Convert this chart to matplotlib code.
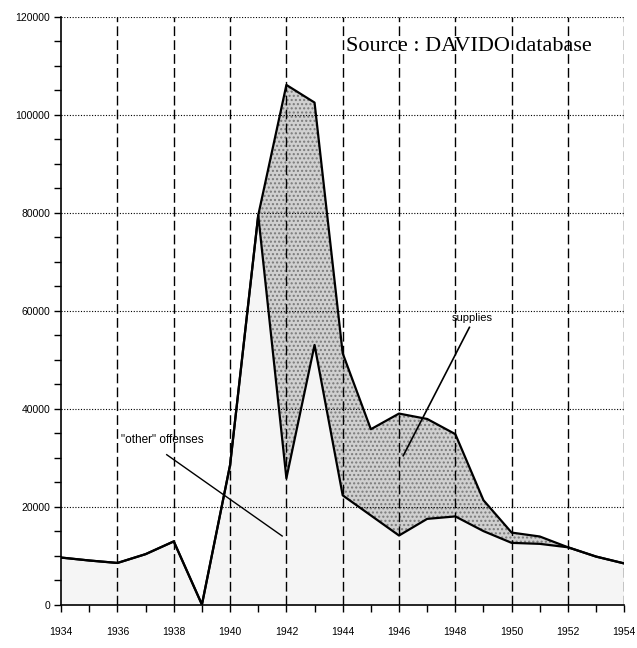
import numpy as np
from matplotlib import pyplot as plt

# Data (DAVIDO database)
years = np.arange(1934, 1955)
other = [9600, 9000, 8500, 10300, 12900, 0, 28500, 79500, 25800, 53000,
         22300, 18200, 14100, 17500, 18000, 15000, 12600, 12400, 11700, 9800, 8400]
total = [9600, 9000, 8500, 10300, 12900, 0, 28500, 79500, 106100, 102500,
         51300, 35800, 39000, 37900, 34800, 21300, 14700, 13900, 11700, 9800, 8400]

yticks = np.arange(0, 120001, 20000)
xticks = np.arange(1934, 1955, 2)

plt.rcParams.update({'font.family': ['Liberation Sans', 'DejaVu Sans']})

fig = plt.figure(figsize=(6.37, 6.48), dpi=100)
ax = fig.add_axes([0.096, 0.067, 0.884, 0.907])

# filled areas
ax.fill_between(years, 0, other, facecolor='#f5f5f5', edgecolor='none', zorder=1)
ax.fill_between(years, other, total, facecolor='#d0d0d0', edgecolor='#7a7a7a',
                hatch='....', linewidth=0, zorder=1)
ax.plot(years, other, color='black', lw=1.6, zorder=3)
ax.plot(years, total, color='black', lw=1.6, zorder=3)

# grid
for y in yticks[1:]:
    ax.axhline(y, color='black', lw=0.8, ls=(0, (1, 1.5)), zorder=2)
for x in xticks[1:]:
    ax.axvline(x, color='black', lw=1.0, ls=(0, (7, 3)), zorder=2)

ax.set_xlim(1934, 1954)
ax.set_ylim(0, 120000)
ax.set_xticks(xticks)
ax.set_xticks(years, minor=True)
ax.set_yticks(yticks)
ax.set_yticks(np.arange(0, 120001, 5000), minor=True)
ax.tick_params(axis='both', which='both', direction='out', length=5, width=1,
               labelsize=7.5)
ax.tick_params(axis='x', pad=11)
ax.tick_params(axis='y', pad=3)
for s in ['top', 'right']:
    ax.spines[s].set_visible(False)
ax.spines['left'].set_linewidth(1.2)
ax.spines['bottom'].set_linewidth(1.2)

# annotations
ax.text(1944.1, 114000, 'Source : DAVIDO database', family='Liberation Serif',
        fontsize=16, ha='left', va='center')
ax.text(1937.6, 33700, '"other" offenses', fontsize=8.5, ha='center', va='center')
ax.plot([1937.75, 1941.85], [30600, 14000], color='black', lw=1)
ax.text(1948.6, 58600, 'supplies', fontsize=8, ha='center', va='center')
ax.plot([1948.5, 1946.15], [56600, 30400], color='black', lw=1.2)

plt.savefig('out.png', dpi=100)
plt.close()
